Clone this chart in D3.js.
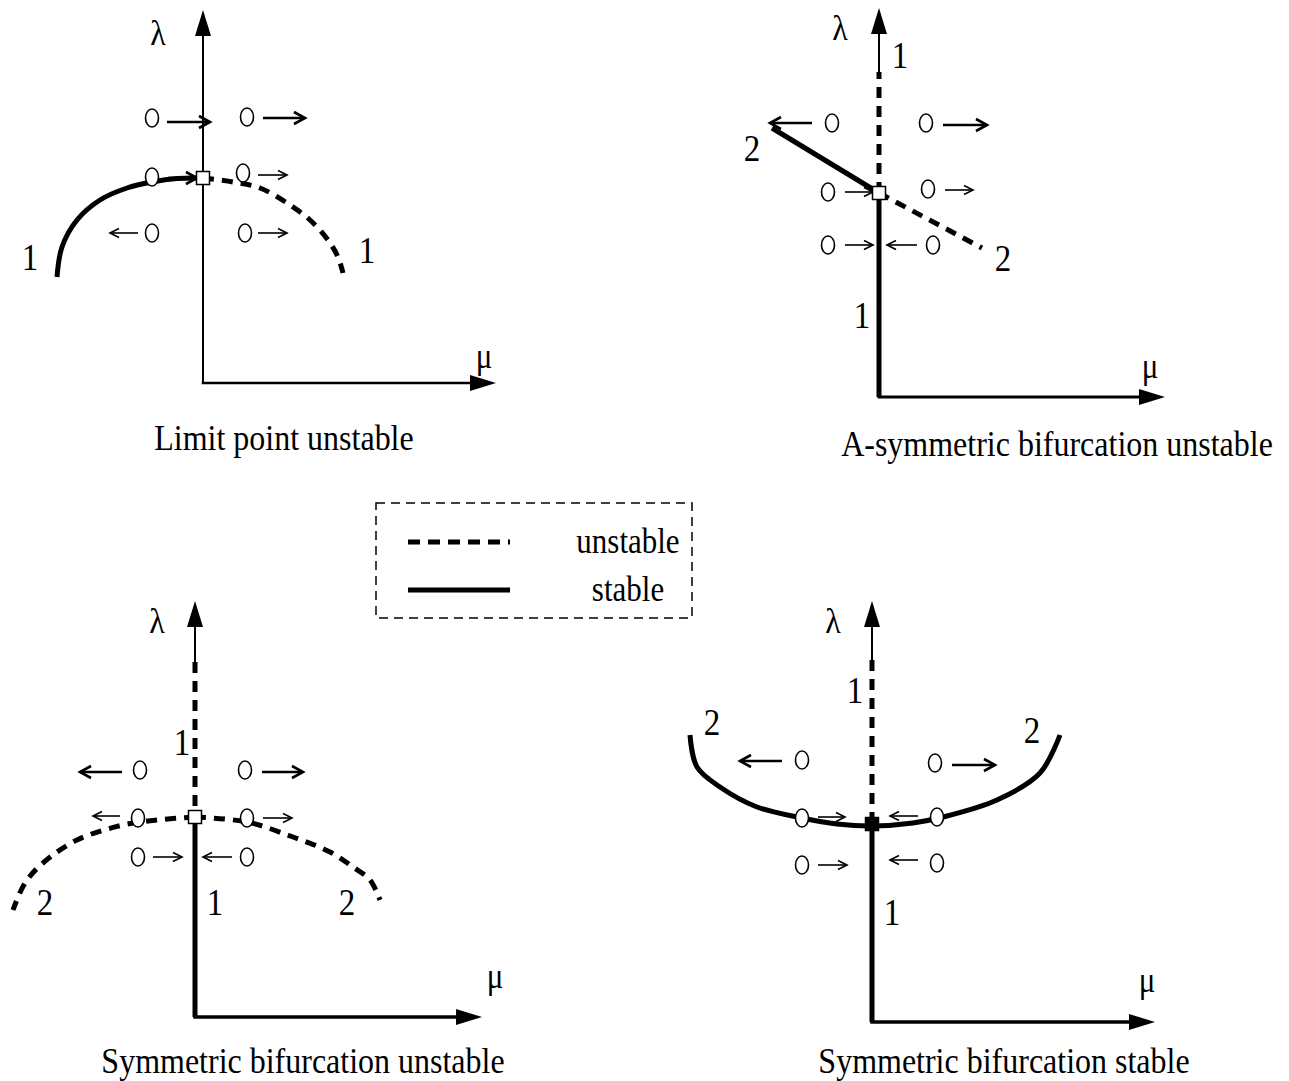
<!DOCTYPE html>
<html>
<head>
<meta charset="utf-8">
<script src="https://cdn.jsdelivr.net/npm/d3@7"></script>
<style>
  html, body { margin: 0; padding: 0; background: #fff; }
  svg text { font-family: "Liberation Serif", "DejaVu Serif", serif; fill: #000; }
</style>
</head>
<body>
<svg id="chart" width="1289" height="1081"></svg>
<script>
// ---- data (diagram units: mu, lambda; origin at the axis corner) ----

// Limit point unstable
const p1Stable = [[-14.6, 10.6], [-14.1, 13.6], [-12.6, 16.3], [-10.3, 18.3], [-7.6, 19.5], [-5.1, 20.1], [-2.6, 20.45], [0, 20.5]];
const p1Unstable = [[0, 20.5], [3, 20.1], [5.7, 19.5], [8.4, 18], [10.7, 16.3], [12.5, 14.3], [13.5, 12.6], [14, 11]];
const p1Critical = [0, 20.5];
// [circle mu, circle lambda, arrow from, arrow to, arrow lambda, heavy]
const p1Probes = [
  [-5.1, 26.5, -3.6, 0.7, 26.1, true], [4.4, 26.6, 6, 10.2, 26.5, true],
  [-5.1, 20.6, -3.5, -0.6, 20.5, true], [4, 21, 5.5, 8.4, 20.8, false],
  [-5.1, 15, -6.5, -9.3, 15, false], [4.2, 15, 5.5, 8.4, 15, false]
];
const p1Labels = [["1", -17.3, 12.6], ["1", 16.4, 13.3]];

// A-symmetric bifurcation unstable
const p2Stable = [[[0, 0], [0, 20.4]], [[-10.7, 26.9], [0, 20.4]]];
const p2Unstable = [[[0, 20.4], [0, 32.5]], [[0, 20.4], [10.3, 14.9]]];
const p2Critical = [0, 20.4];
const p2Probes = [
  [-4.7, 27.4, -6.7, -10.9, 27.4, true], [4.7, 27.4, 6.4, 10.8, 27.2, true],
  [-5.1, 20.5, -3.4, -0.6, 20.5, false], [4.9, 20.8, 6.6, 9.4, 20.7, false],
  [-5.1, 15.2, -3.4, -0.6, 15.2, false], [5.4, 15.2, 3.8, 0.8, 15.2, false]
];
const p2Labels = [["1", 2.1, 34.2], ["1", -1.7, 8.2], ["2", -12.7, 24.9], ["2", 12.4, 13.9]];

// Symmetric bifurcation unstable
const p3Stable = [[[0, 0], [0, 20]]];
const p3Unstable = [
  [[0, 35.5], [0, 20]],
  [[0, 20], [-3.8, 19.7], [-7.2, 19.2], [-11.8, 17.7], [-15.2, 15.4], [-17, 13.4], [-18.2, 10.7]],
  [[0, 20], [5.2, 19.5], [9.8, 18], [13.5, 16.5], [15.8, 15], [17.5, 13.7], [18.5, 11.7]]
];
const p3Critical = [0, 20];
const p3Probes = [
  [-5.5, 24.7, -7.3, -11.5, 24.5, true], [5, 24.7, 6.7, 10.8, 24.5, true],
  [-5.7, 19.9, -7.5, -10.2, 20.1, false], [5.2, 19.9, 6.8, 9.7, 19.9, false],
  [-5.7, 16, -4.2, -1.3, 16, false], [5.2, 16, 3.7, 0.8, 16, false]
];
const p3Labels = [["1", -1.3, 27.5], ["1", 2, 11.5], ["2", -15, 11.5], ["2", 15.2, 11.5]];

// Symmetric bifurcation stable
const p4Stable = [
  [[0, 0], [0, 19.8]],
  [[-18.2, 28.7], [-17.5, 25.5], [-15.2, 23.5], [-11.5, 21.5], [-7, 20.4], [-3.5, 19.8], [0, 19.6], [4.1, 19.9], [7.1, 20.5], [12.5, 22.2], [16.8, 24.9], [18.8, 28.7]]
];
const p4Unstable = [[[0, 36.2], [0, 19.8]]];
const p4Critical = [0, 19.8];
const p4Probes = [
  [-7, 26.2, -9, -13.2, 26.1, true], [6.3, 25.9, 8, 12.3, 25.7, true],
  [-7, 20.4, -5.4, -2.7, 20.5, false], [6.5, 20.5, 4.6, 1.8, 20.6, false],
  [-7, 15.7, -5.4, -2.5, 15.7, false], [6.5, 15.9, 4.6, 1.8, 16.2, false]
];
const p4Labels = [["1", -1.7, 33.2], ["1", 2, 11], ["2", -16, 30], ["2", 16, 29.2]];

const titles = ["Limit point unstable", "A-symmetric bifurcation unstable",
  "Symmetric bifurcation unstable", "Symmetric bifurcation stable"];
const legendItems = [["unstable", true], ["stable", false]];

// ---- layout ----
const panels = [
  { origin: [203, 383], lamTop: 37.3, lamStart: 0, muEnd: 29.3, lamLabel: [-4.5, 35.1], muLabel: [28.1, 2.7],
    stable: [p1Stable], unstable: [p1Unstable], critical: p1Critical, filled: false,
    probes: p1Probes, labels: p1Labels, title: titles[0], titlePos: [284, 437], axisW: 2.5 },
  { origin: [879, 397], lamTop: 38.9, lamStart: 32.5, muEnd: 28.6, lamLabel: [-3.9, 37], muLabel: [27.1, 3.1],
    stable: p2Stable, unstable: p2Unstable, critical: p2Critical, filled: false,
    probes: p2Probes, labels: p2Labels, title: titles[1], titlePos: [1057, 443], axisW: 3 },
  { origin: [195, 1017], lamTop: 41.6, lamStart: 35.5, muEnd: 28.7, lamLabel: [-3.8, 39.7], muLabel: [30, 4.1],
    stable: p3Stable, unstable: p3Unstable, critical: p3Critical, filled: false,
    probes: p3Probes, labels: p3Labels, title: titles[2], titlePos: [303, 1060], axisW: 3.5 },
  { origin: [872, 1022], lamTop: 42.1, lamStart: 36.2, muEnd: 28.3, lamLabel: [-3.9, 40.2], muLabel: [27.5, 4.2],
    stable: p4Stable, unstable: p4Unstable, critical: p4Critical, filled: true,
    probes: p4Probes, labels: p4Labels, title: titles[3], titlePos: [1004, 1060], axisW: 3.5 }
];

const svg = d3.select("#chart");
const DASH = "11,8";

// text drawn slightly taller than wide, like the scanned lettering
function tallText(sel, px, py, size, txt) {
  return sel.append("text")
    .attr("transform", `translate(${px},${py}) scale(1,1.15)`)
    .attr("text-anchor", "middle").attr("dominant-baseline", "central")
    .style("font-size", size + "px")
    .text(txt);
}

function drawPanel(p) {
  const [ox, oy] = p.origin;
  const x = d3.scaleLinear().domain([-20, 30]).range([ox - 200, ox + 300]);
  const y = d3.scaleLinear().domain([0, 45]).range([oy, oy - 450]);
  const line = d3.line().x(d => x(d[0])).y(d => y(d[1])).curve(d3.curveCatmullRom.alpha(0.5));
  const g = svg.append("g");

  // axes
  const headLen = 26, headW = 8;
  g.append("line")
    .attr("x1", x(0)).attr("x2", x(0))
    .attr("y1", y(p.lamStart)).attr("y2", y(p.lamTop) + headLen - 2)
    .attr("stroke", "#000").attr("stroke-width", 2);
  g.append("path")
    .attr("d", `M${x(0)},${y(p.lamTop)} L${x(0) - headW},${y(p.lamTop) + headLen} L${x(0) + headW},${y(p.lamTop) + headLen} Z`)
    .attr("fill", "#000");
  g.append("line")
    .attr("x1", x(0) - p.axisW / 2).attr("x2", x(p.muEnd) - headLen + 2)
    .attr("y1", y(0)).attr("y2", y(0))
    .attr("stroke", "#000").attr("stroke-width", p.axisW);
  g.append("path")
    .attr("d", `M${x(p.muEnd)},${y(0)} L${x(p.muEnd) - headLen},${y(0) - headW} L${x(p.muEnd) - headLen},${y(0) + headW} Z`)
    .attr("fill", "#000");

  // branches
  g.selectAll(".unstable").data(p.unstable).enter().append("path")
    .attr("class", "unstable")
    .attr("d", line)
    .attr("fill", "none").attr("stroke", "#000")
    .attr("stroke-width", 5).attr("stroke-dasharray", DASH);
  g.selectAll(".stable").data(p.stable).enter().append("path")
    .attr("class", "stable")
    .attr("d", line)
    .attr("fill", "none").attr("stroke", "#000")
    .attr("stroke-width", 5).attr("stroke-linecap", "butt");

  // perturbation markers and arrows
  const probe = g.selectAll(".probe").data(p.probes).enter().append("g").attr("class", "probe");
  probe.append("line")
    .attr("x1", d => x(d[2])).attr("x2", d => x(d[3]))
    .attr("y1", d => y(d[4])).attr("y2", d => y(d[4]))
    .attr("stroke", "#000").attr("stroke-width", d => d[5] ? 2.6 : 1.6);
  probe.append("path")
    .attr("d", d => {
      const s = d[3] > d[2] ? 1 : -1, len = d[5] ? 11 : 9, hw = d[5] ? 6 : 4.5;
      const tx = x(d[3]), ty = y(d[4]);
      return `M${tx - s * len},${ty - hw} L${tx},${ty} L${tx - s * len},${ty + hw}`;
    })
    .attr("fill", "none").attr("stroke", "#000")
    .attr("stroke-width", d => d[5] ? 2.6 : 1.6);
  probe.append("ellipse")
    .attr("cx", d => x(d[0])).attr("cy", d => y(d[1]))
    .attr("rx", 6.5).attr("ry", 9)
    .attr("fill", "#fff").attr("stroke", "#000").attr("stroke-width", 1.6);

  // critical point
  const sq = 13;
  g.append("rect")
    .attr("x", x(p.critical[0]) - sq / 2).attr("y", y(p.critical[1]) - sq / 2)
    .attr("width", sq).attr("height", sq)
    .attr("fill", p.filled ? "#000" : "#fff")
    .attr("stroke", "#000").attr("stroke-width", 1.5);

  // branch labels
  p.labels.forEach(d => tallText(g, x(d[1]), y(d[2]), 33, d[0]));

  tallText(g, x(p.lamLabel[0]), y(p.lamLabel[1]), 32, "λ");
  tallText(g, x(p.muLabel[0]), y(p.muLabel[1]), 31, "μ");

  tallText(g, p.titlePos[0], p.titlePos[1], 32, p.title);
}

panels.forEach(drawPanel);

// legend
const legend = svg.append("g");
legend.append("rect")
  .attr("x", 376).attr("y", 503).attr("width", 316).attr("height", 115)
  .attr("fill", "none").attr("stroke", "#000").attr("stroke-width", 1.5)
  .attr("stroke-dasharray", "9,6");
const ly = d3.scalePoint().domain(legendItems.map(d => d[0])).range([542, 590]);
legend.selectAll(".lline").data(legendItems).enter().append("line")
  .attr("x1", 408).attr("x2", 510)
  .attr("y1", d => ly(d[0])).attr("y2", d => ly(d[0]))
  .attr("stroke", "#000").attr("stroke-width", 5)
  .attr("stroke-dasharray", d => d[1] ? "12,8" : null);
legendItems.forEach(d => tallText(legend, 628, ly(d[0]) - 1, 31, d[0]));
</script>
</body>
</html>
